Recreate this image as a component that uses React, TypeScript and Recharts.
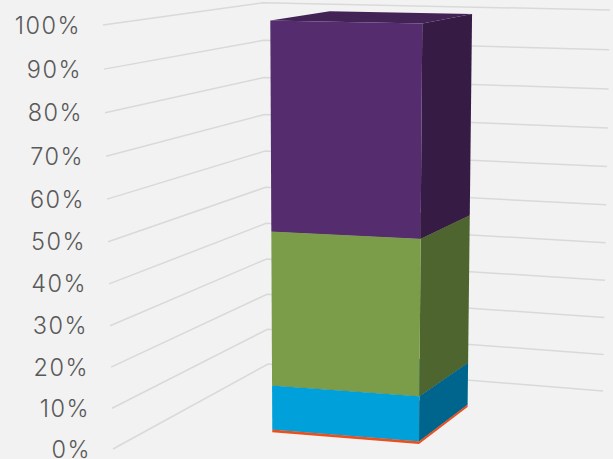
import React from 'react';
import { BarChart, Bar, XAxis, YAxis, CartesianGrid } from 'recharts';

const categories = ['Total'];
const orangeValues = [0.7];
const blueValues = [11.1];
const greenValues = [38.1];
const purpleValues = [50.1];
const tickValues = [0, 10, 20, 30, 40, 50, 60, 70, 80, 90, 100];

const rows = categories.map((name, i) => ({
  name,
  orange: orangeValues[i],
  blue: blueValues[i],
  green: greenValues[i],
  purple: purpleValues[i],
}));

const W = 613, H = 459;
const M = { top: 20, right: 60, bottom: 20, left: 0 };
const AXIS_W = 60;
const PL = M.left + AXIS_W, PW = W - M.right - PL, PT = M.top, PH = H - M.top - M.bottom, PB = PT + PH;

type P = [number, number];
// 3D camera approximation: floor and ceiling quads of the chart box
function homography(A: P, D: P, C: P, B: P) {
  const dx1 = D[0] - C[0], dx2 = B[0] - C[0], sx = A[0] - D[0] + C[0] - B[0];
  const dy1 = D[1] - C[1], dy2 = B[1] - C[1], sy = A[1] - D[1] + C[1] - B[1];
  const den = dx1 * dy2 - dx2 * dy1;
  const g = (sx * dy2 - dx2 * sy) / den, h = (dx1 * sy - sx * dy1) / den;
  const a = D[0] - A[0] + g * D[0], b = B[0] - A[0] + h * B[0];
  const d = D[1] - A[1] + g * D[1], e = B[1] - A[1] + h * B[1];
  return (s: number, v: number): P => {
    const w = g * s + h * v + 1;
    return [(a * s + b * v + A[0]) / w, (d * s + e * v + A[1]) / w];
  };
}
const floor = homography([113, 449], [505, 480], [603, 391], [268, 364]);
const ceil = homography([103, 25], [509, 32.5], [610, 10], [263, 2.7]);
const TILT = -0.0434;
function project(s: number, v: number, t: number): P {
  const p0 = floor(s, v), p1 = ceil(s, v);
  const w = 1 + TILT * t;
  return [
    (p0[0] + (p1[0] * (1 + TILT) - p0[0]) * t) / w,
    (p0[1] + (p1[1] * (1 + TILT) - p0[1]) * t) / w,
  ];
}
const tOf = (y: number) => (PB - y) / PH;
const pts = (list: P[]) => list.map((p) => p[0].toFixed(2) + ',' + p[1].toFixed(2)).join(' ');

const DEPTH_FRONT = 0.27, DEPTH_BACK = 0.69, S_SHIFT = -0.005;

function box(front: string, side: string, top: string) {
  return (props: any) => {
    const { x, y, width, height } = props;
    const s0 = (x - PL) / PW + S_SHIFT, s1 = (x + width - PL) / PW + S_SHIFT;
    const t0 = tOf(y + height), t1 = tOf(y);
    const f = DEPTH_FRONT, b = DEPTH_BACK;
    return (
      <g>
        <polygon points={pts([project(s0, f, t1), project(s1, f, t1), project(s1, b, t1), project(s0, b, t1)])} fill={top} />
        <polygon points={pts([project(s1, f, t0), project(s1, b, t0), project(s1, b, t1), project(s1, f, t1)])} fill={side} />
        <polygon points={pts([project(s0, f, t0), project(s1, f, t0), project(s1, f, t1), project(s0, f, t1)])} fill={front} />
      </g>
    );
  };
}

const gridLine = (props: any) => {
  const t = tOf(props.y1);
  return (
    <polyline
      key={props.key}
      points={pts([project(0, 0, t), project(0, 1, t), project(1, 1, t)])}
      fill="none"
      stroke="#d9d9d9"
      strokeWidth={1.5}
    />
  );
};

const axisTick = (props: any) => {
  const t = tOf(props.y);
  const p = project(0, 0, t);
  return (
    <text
      x={p[0] - 22}
      y={p[1]}
      textAnchor="end"
      dominantBaseline="central"
      fontFamily="Inter"
      fontSize={23.5}
      fontWeight={300}
      letterSpacing={1.5}
      fill="#595959"
    >
      {props.payload.value}%
    </text>
  );
};

export default function App() {
  return (
    <div style={{ position: 'absolute', left: 0, top: 0, width: W, height: H, background: '#f2f2f2', overflow: 'hidden' }}>
      <BarChart width={W} height={H} data={rows} margin={M} barCategoryGap="30.4%">
        <CartesianGrid vertical={false} horizontal={gridLine} />
        <XAxis dataKey="name" hide />
        <YAxis
          width={AXIS_W}
          domain={[0, 100]}
          ticks={tickValues}
          interval={0}
          axisLine={false}
          tickLine={false}
          tick={axisTick}
        />
        <Bar dataKey="orange" stackId="a" isAnimationActive={false} shape={box('#e9501e', '#e9501e', '#e9501e')} />
        <Bar dataKey="blue" stackId="a" isAnimationActive={false} shape={box('#00a0da', '#00658c', '#00658c')} />
        <Bar dataKey="green" stackId="a" isAnimationActive={false} shape={box('#7b9c49', '#4f652f', '#4f652f')} />
        <Bar dataKey="purple" stackId="a" isAnimationActive={false} shape={box('#552d6e', '#361c45', '#432356')} />
      </BarChart>
    </div>
  );
}
